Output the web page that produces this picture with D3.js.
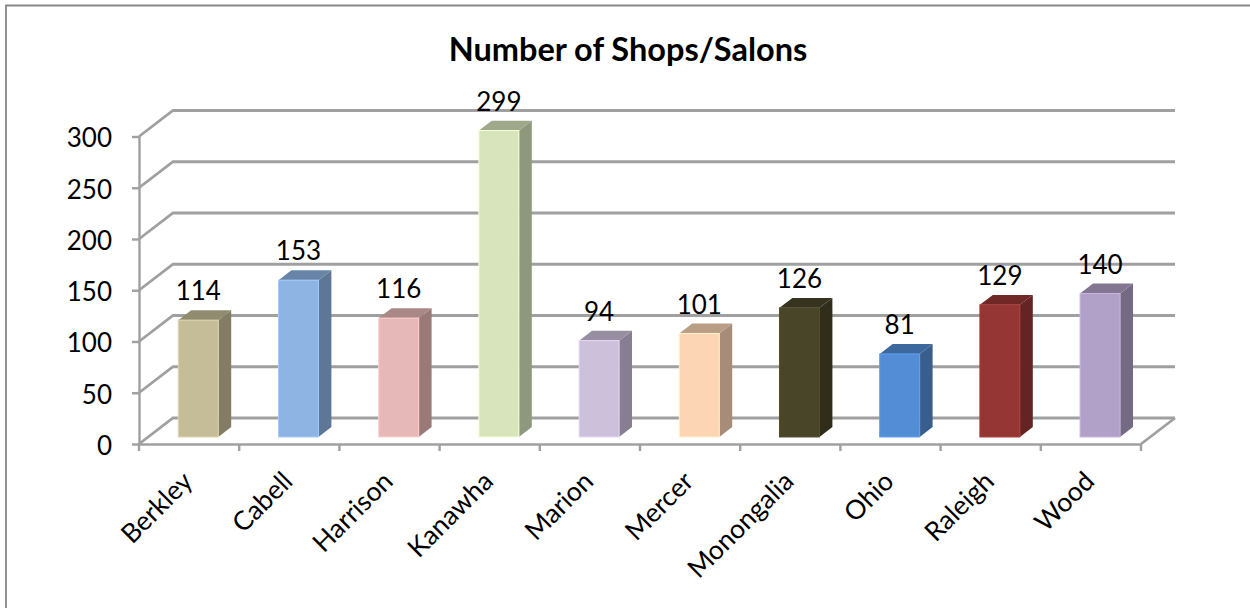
<!DOCTYPE html>
<html>
<head>
<meta charset="utf-8">
<script src="https://cdn.jsdelivr.net/npm/d3@7"></script>
<style>
html, body { margin: 0; padding: 0; background: #fff; }
svg { display: block; }
text { font-family: Lato, "Open Sans", sans-serif; fill: #000; }
</style>
</head>
<body>
<div id="chart"></div>
<script>
var categories = ["Berkley", "Cabell", "Harrison", "Kanawha", "Marion", "Mercer", "Monongalia", "Ohio", "Raleigh", "Wood"];
var shops = [114, 153, 116, 299, 94, 101, 126, 81, 129, 140];
var yTicks = [0, 50, 100, 150, 200, 250, 300];
var frontColors = ["#c4bd97", "#8db4e2", "#e6b8b7", "#d8e4bc", "#ccc0da", "#fcd5b4", "#494529", "#538dd5", "#963634", "#b1a0c7"];

var width = 1250, height = 608;
var gridColor = "#a0a0a0";

var svg = d3.select("#chart").append("svg")
    .attr("width", width)
    .attr("height", height);

// outer chart frame, cut off by the picture on the right and at the bottom
svg.append("path")
    .attr("d", "M6," + height + "V5.5H" + width)
    .attr("fill", "none")
    .attr("stroke", "#888")
    .attr("stroke-width", 1.8);

var x = d3.scaleBand().domain(categories).range([139, 1141]);
var y = d3.scaleLinear().domain([0, 300]).range([444, 136.5]);

// depth of the 3d box: 0 is the front edge, 1 the back wall
var depthX = d3.scaleLinear().domain([0, 1]).range([0, 34]);
var depthY = d3.scaleLinear().domain([0, 1]).range([0, -26]);

// walls
var grid = svg.append("g")
    .attr("fill", "none")
    .attr("stroke", gridColor)
    .attr("stroke-width", 2.8);

grid.selectAll(".wall")
    .data(yTicks)
    .enter()
    .append("path")
    .attr("class", "wall")
    .attr("d", function(d) {
        return "M" + x.range()[0] + "," + y(d) +
            "L" + (x.range()[0] + depthX(1)) + "," + (y(d) + depthY(1)) +
            "H" + (x.range()[1] + depthX(1));
    });

grid.append("path")
    .attr("d", "M" + x.range()[1] + "," + y(0) +
        "L" + (x.range()[1] + depthX(1)) + "," + (y(0) + depthY(1)));

// axes
var yAxis = svg.append("g")
    .attr("transform", "translate(139,0)")
    .call(d3.axisLeft(y).tickValues(yTicks).tickSize(7).tickPadding(20).tickSizeOuter(0));

var xAxis = svg.append("g")
    .attr("transform", "translate(0," + y(0) + ")")
    .call(d3.axisBottom(x).tickSize(7).tickSizeOuter(0).tickFormat(""));

// category ticks sit between the bars, not on the band centres
xAxis.selectAll(".tick").remove();
xAxis.selectAll(".edge")
    .data(d3.range(categories.length + 1))
    .enter()
    .append("line")
    .attr("class", "edge")
    .attr("x1", function(i) { return x.range()[0] + i * x.step(); })
    .attr("x2", function(i) { return x.range()[0] + i * x.step(); })
    .attr("y1", 0)
    .attr("y2", 7);

svg.selectAll(".domain, .tick line, .edge")
    .attr("stroke", gridColor)
    .attr("stroke-width", 2.4);

yAxis.selectAll("text")
    .attr("font-size", 26)
    .attr("y", 2);

// bars
var barWidth = 40;
var depthFront = 0.27, depthBack = 0.65;

function left(d, i) {
    return x(categories[i]) + x.bandwidth() / 2 - barWidth / 2 + depthX(depthFront);
}

var bars = svg.selectAll(".bar")
    .data(shops)
    .enter()
    .append("g")
    .attr("class", "bar");

// side face
bars.append("path")
    .attr("fill", function(d, i) { return d3.color(frontColors[i]).darker(1.15); })
    .attr("d", function(d, i) {
        var x0 = left(d, i) + barWidth;
        var dx = depthX(depthBack) - depthX(depthFront);
        var dy = depthY(depthBack) - depthY(depthFront);
        var top = y(d) + depthY(depthFront);
        var bottom = y(0) + depthY(depthFront);
        return "M" + x0 + "," + top + "l" + dx + "," + dy + "V" + (bottom + dy) + "L" + x0 + "," + bottom + "Z";
    });

// top face
bars.append("path")
    .attr("fill", function(d, i) { return d3.color(frontColors[i]).darker(0.85); })
    .attr("d", function(d, i) {
        var x0 = left(d, i);
        var dx = depthX(depthBack) - depthX(depthFront);
        var dy = depthY(depthBack) - depthY(depthFront);
        var top = y(d) + depthY(depthFront);
        return "M" + x0 + "," + top + "l" + dx + "," + dy + "h" + barWidth + "l" + (-dx) + "," + (-dy) + "Z";
    });

// front face
bars.append("rect")
    .attr("x", left)
    .attr("y", function(d) { return y(d) + depthY(depthFront); })
    .attr("width", barWidth)
    .attr("height", function(d) { return y(0) - y(d); })
    .attr("fill", function(d, i) { return frontColors[i]; })
    .attr("stroke", function(d, i) { return d3.color(frontColors[i]).brighter(0.35); })
    .attr("stroke-width", 1);

// value labels
svg.selectAll(".value")
    .data(shops)
    .enter()
    .append("text")
    .attr("class", "value")
    .attr("x", function(d, i) { return left(d, i) + barWidth / 2; })
    .attr("y", function(d) { return y(d) + depthY(depthBack) - 10; })
    .attr("text-anchor", "middle")
    .attr("font-size", 26)
    .text(function(d) { return d; });

// category labels
svg.selectAll(".category")
    .data(categories)
    .enter()
    .append("text")
    .attr("class", "category")
    .attr("text-anchor", "end")
    .attr("font-size", 26.5)
    .attr("transform", function(d) {
        return "translate(" + (x(d) + x.bandwidth() / 2 + 5) + ",483) rotate(-45)";
    })
    .text(function(d) { return d; });

svg.append("text")
    .attr("x", 628)
    .attr("y", 61)
    .attr("text-anchor", "middle")
    .attr("font-size", 32.5)
    .attr("font-weight", "bold")
    .text("Number of Shops/Salons");
</script>
</body>
</html>
